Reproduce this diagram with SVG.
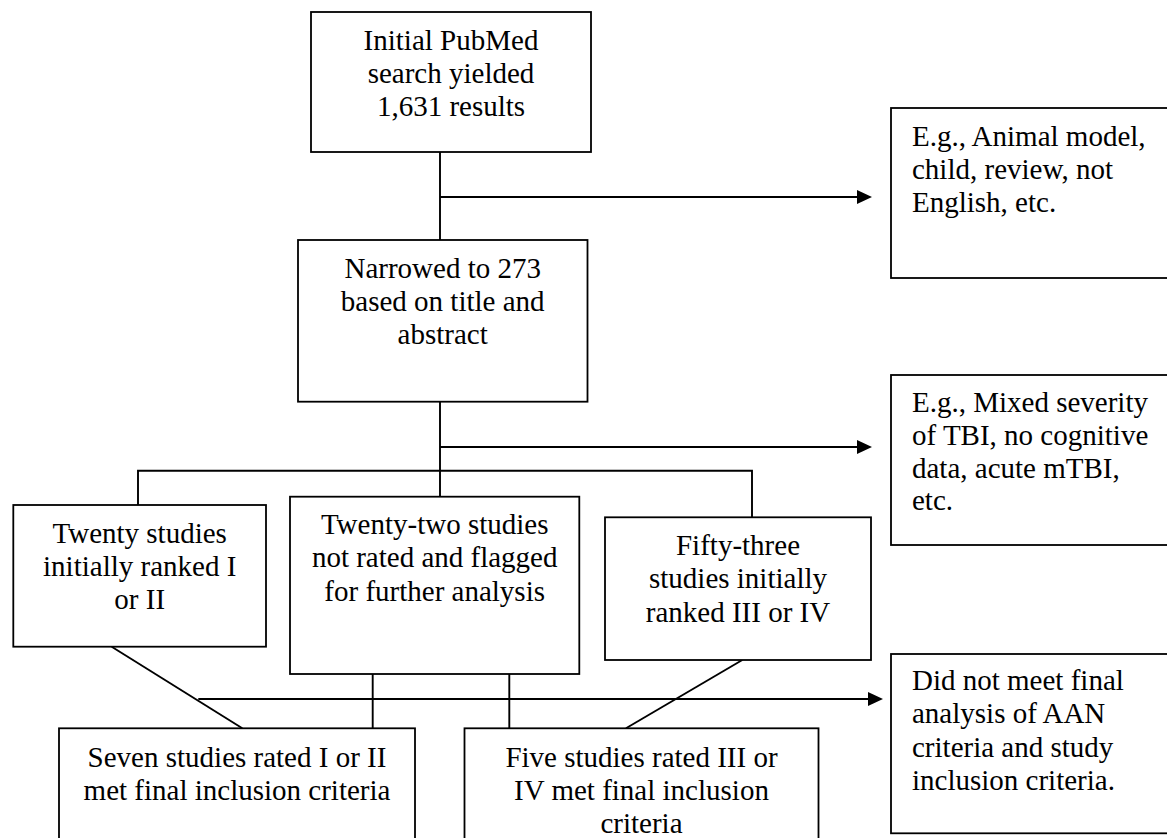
<svg xmlns="http://www.w3.org/2000/svg" width="1167" height="838" viewBox="0 0 1167 838">
<defs>
<style>
.box{fill:#fff;stroke:#000;stroke-width:1.8}
.ln{fill:none;stroke:#000;stroke-width:1.9}
.arr{fill:none;stroke:#000;stroke-width:1.9;marker-end:url(#ah)}
.t{font-family:'Liberation Serif',Tinos,'Times New Roman',Times,'DejaVu Serif','Noto Serif',serif;font-size:29px;fill:#000}
.c{text-anchor:middle}
</style>
<marker id="ah" markerUnits="userSpaceOnUse" viewBox="0 0 15 14" refX="7" refY="7" markerWidth="15" markerHeight="14" orient="auto">
<path d="M0,0 L15,7 L0,14 z" fill="#000"/>
</marker>
</defs>
<rect width="1167" height="838" fill="#fff"/>
<g id="connectors">
<line class="ln" x1="440" y1="152" x2="440" y2="240"/>
<line class="arr" x1="440" y1="197" x2="864" y2="197"/>
<line class="ln" x1="440" y1="401.7" x2="440" y2="496.7"/>
<line class="arr" x1="440" y1="447" x2="864" y2="447"/>
<polyline class="ln" points="138,505 138,470.7 752,470.7 752,517.3"/>
<line class="ln" x1="111.7" y1="646.7" x2="242.3" y2="728.3"/>
<line class="ln" x1="742.3" y1="660" x2="626" y2="728.3"/>
<line class="ln" x1="372.7" y1="674" x2="372.7" y2="728.3"/>
<line class="ln" x1="509.3" y1="674" x2="509.3" y2="728.3"/>
<line class="arr" x1="198.3" y1="699" x2="875" y2="699"/>
</g>
<g class="t" font-family="Liberation Serif, serif">
<g id="n-initial">
<rect class="box" x="311" y="12" width="280" height="140"/>
<text class="c" x="451" y="49.5">Initial PubMed</text>
<text class="c" x="451" y="82.8">search yielded</text>
<text class="c" x="451" y="116">1,631 results</text>
</g>
<g id="n-excl1">
<rect class="box" x="891" y="108" width="290" height="170"/>
<text x="912" y="145.5">E.g., Animal model,</text>
<text x="912" y="178.8">child, review, not</text>
<text x="912" y="212">English, etc.</text>
</g>
<g id="n-narrowed">
<rect class="box" x="298" y="240" width="289.5" height="161.7"/>
<text class="c" x="442.7" y="277.5">Narrowed to 273</text>
<text class="c" x="442.7" y="310.8">based on title and</text>
<text class="c" x="442.7" y="344">abstract</text>
</g>
<g id="n-excl2">
<rect class="box" x="891" y="375" width="290" height="170"/>
<text x="912" y="412">E.g., Mixed severity</text>
<text x="912" y="444.8">of TBI, no cognitive</text>
<text x="912" y="477.5">data, acute mTBI,</text>
<text x="912" y="510">etc.</text>
</g>
<g id="n-twenty">
<rect class="box" x="13.3" y="505" width="252.7" height="141.7"/>
<text class="c" x="139.7" y="542.5">Twenty studies</text>
<text class="c" x="139.7" y="575.8">initially ranked I</text>
<text class="c" x="139.7" y="609">or II</text>
</g>
<g id="n-twentytwo">
<rect class="box" x="290" y="496.7" width="289.3" height="177.3"/>
<text class="c" x="434.7" y="534">Twenty-two studies</text>
<text class="c" x="434.7" y="567.3">not rated and flagged</text>
<text class="c" x="434.7" y="600.6">for further analysis</text>
</g>
<g id="n-fiftythree">
<rect class="box" x="605" y="517.3" width="266" height="142.7"/>
<text class="c" x="738" y="555">Fifty-three</text>
<text class="c" x="738" y="588.3">studies initially</text>
<text class="c" x="738" y="621.6">ranked III or IV</text>
</g>
<g id="n-excl3">
<rect class="box" x="891" y="654" width="290" height="179.3"/>
<text x="912" y="690">Did not meet final</text>
<text x="912" y="723.3">analysis of AAN</text>
<text x="912" y="756.6">criteria and study</text>
<text x="912" y="790">inclusion criteria.</text>
</g>
<g id="n-seven">
<rect class="box" x="59" y="728.3" width="356" height="130"/>
<text class="c" x="237" y="766.5">Seven studies rated I or II</text>
<text class="c" x="237" y="799.8">met final inclusion criteria</text>
</g>
<g id="n-five">
<rect class="box" x="464.5" y="728.3" width="354" height="130"/>
<text class="c" x="641.5" y="766.5">Five studies rated III or</text>
<text class="c" x="641.5" y="799.8">IV met final inclusion</text>
<text class="c" x="641.5" y="833.1">criteria</text>
</g>
</g>
</svg>
